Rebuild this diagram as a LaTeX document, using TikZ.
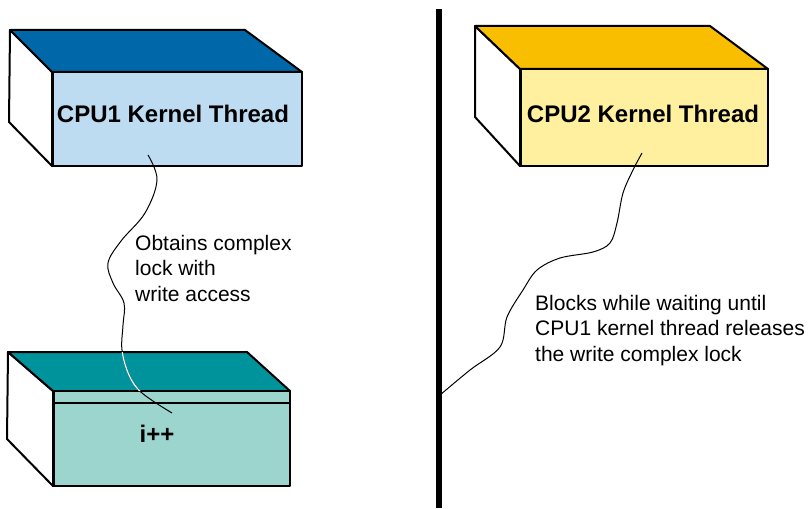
\documentclass[tikz,border=0pt]{standalone}
\usepackage{fontspec}
\setmainfont{Liberation Sans}
\definecolor{topA}{HTML}{0067A9}
\definecolor{frontA}{HTML}{BDDCF2}
\definecolor{topB}{HTML}{F9BE00}
\definecolor{frontB}{HTML}{FFF0A0}
\definecolor{topC}{HTML}{00939B}
\definecolor{frontC}{HTML}{9CD4CE}
\tikzset{
  face/.style={draw=black, line width=2pt, line join=round},
  frontedge/.style={draw=black, line width=3pt},
  title/.style={font=\fontsize{24}{28}\selectfont\bfseries, inner sep=0pt, anchor=center},
  note/.style={font=\fontsize{21}{25.5}\selectfont, inner sep=0pt, align=left, anchor=north west},
  wire/.style={draw=black, line width=1pt},
}
\begin{document}
\begin{tikzpicture}[x=1pt,y=-1pt]
\useasboundingbox (0,0) rectangle (810,508);
\fill[white] (0,0) rectangle (810,508);

% ---- CPU1 box ----
\path[face, fill=white] (10,30) -- (52,72) -- (52,166) -- (9,122) -- cycle;
\path[face, fill=topA] (10,30) -- (245,30) -- (302,72) -- (52,72) -- cycle;
\path[face, fill=frontA] (52,72) rectangle (302,166);
\draw[frontedge] (52,72) -- (52,167);
\node[title] (cpu1) at (173,114) {CPU1 Kernel Thread};

% ---- CPU2 box ----
\path[face, fill=white] (475,26) -- (520,69) -- (520,166) -- (475,117) -- cycle;
\path[face, fill=topB] (475,26) -- (710,26) -- (768,69) -- (520,69) -- cycle;
\path[face, fill=frontB] (520,69) rectangle (768,166);
\draw[frontedge] (520,69) -- (520,167);
\node[title] (cpu2) at (643,114) {CPU2 Kernel Thread};

% ---- data box ----
\path[face, fill=white] (8,352) -- (53,391) -- (53,486) -- (7,439) -- cycle;
\path[face, fill=topC] (8,352) -- (247,352) -- (290,391) -- (53,391) -- cycle;
\path[face, fill=frontC] (53,391) rectangle (290,486);
\draw[frontedge] (53,391) -- (53,487);
\draw[black, line width=1.5pt] (53,403) -- (290,403);
\node[title] (inc) at (157,434) {i++};

% ---- divider ----
\coordinate (divtop) at (439,9);
\coordinate (divbot) at (439,508);
\draw[black, line width=5.5pt] (divtop) -- (divbot);

% ---- connectors ----
\coordinate (a1) at (148,155);
\coordinate (a2) at (172,413);
\def\curveA{plot[smooth, tension=0.6] coordinates {(a1) (157,180) (145,213) (121,241) (108,263) (113,283) (124,303) (123,325) (122,350) (129,375) (142,393) (a2)}}
\draw[wire] \curveA;
\begin{scope}
  \clip (8,352) -- (247,352) -- (290,391) -- (53,391) -- cycle;
  \draw[white, line width=1.2pt] \curveA;
\end{scope}

\coordinate (b1) at (642,153);
\coordinate (b2) at (440,395);
\draw[wire] plot[smooth, tension=0.55] coordinates {(b1) (633,170) (623,193) (617,223) (610,243) (593,252) (560,258) (537,270) (523,290) (507,317) (500,347) (470,370) (b2)};

% ---- labels ----
\node[note] (n1) at (135,235) {Obtains complex\\lock with\\write access};
\node[note] (n2) at (535,295) {Blocks while waiting until\\CPU1 kernel thread releases\\the write complex lock};
\end{tikzpicture}
\end{document}
